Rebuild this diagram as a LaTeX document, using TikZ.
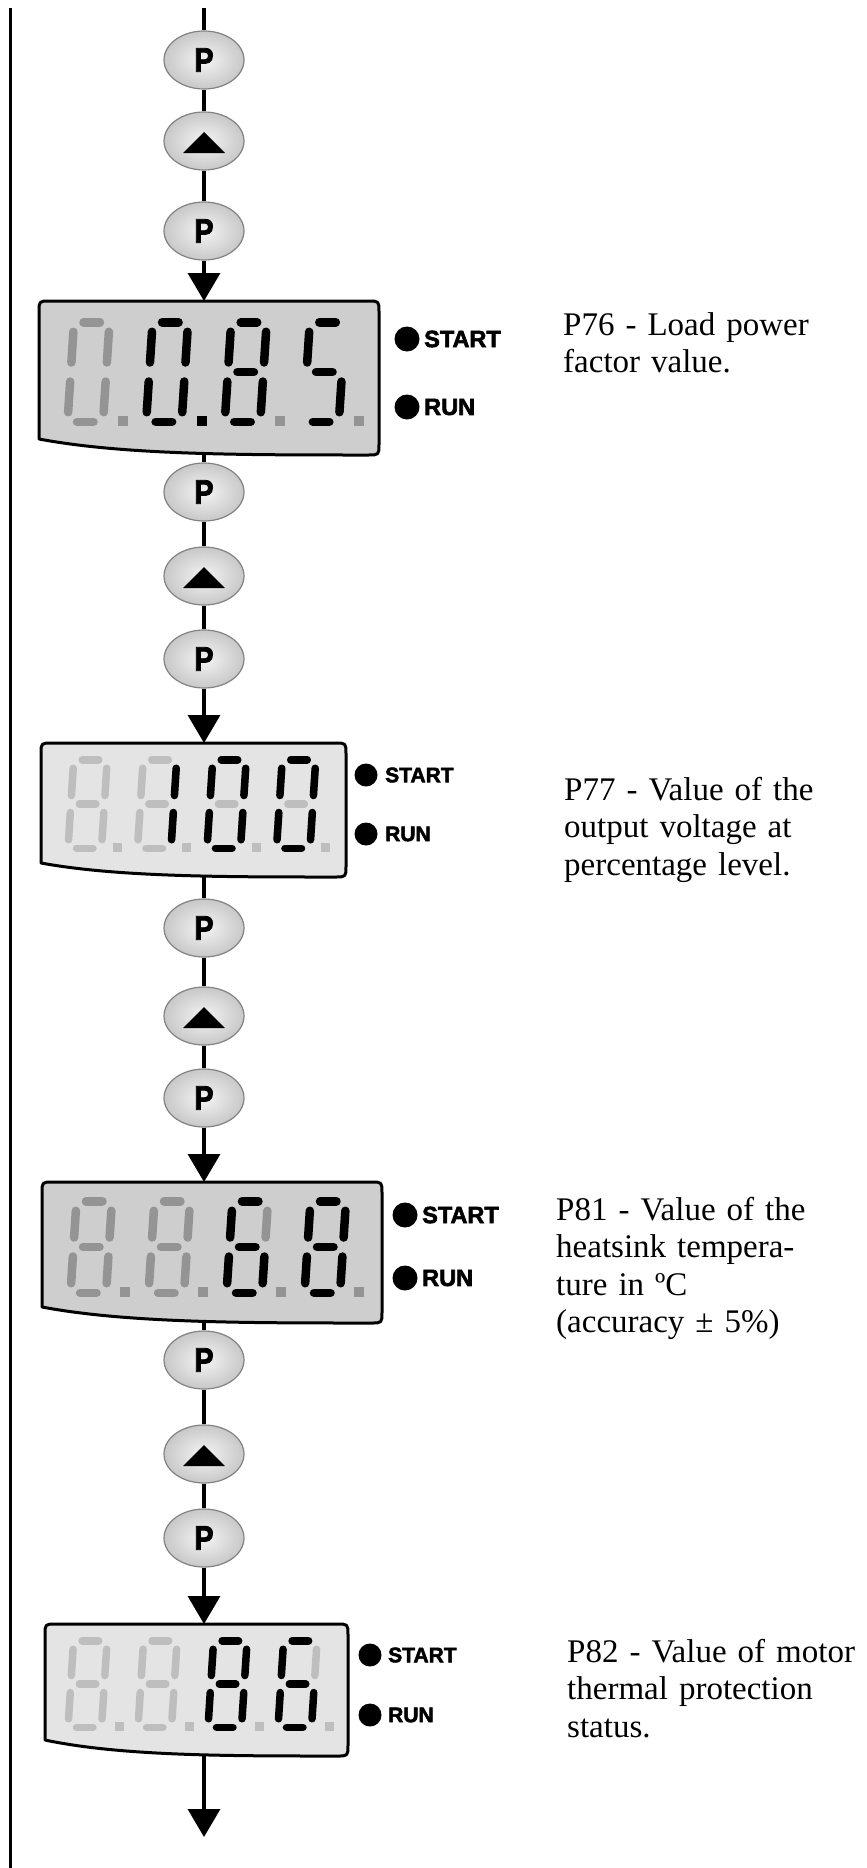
\documentclass[tikz,border=0pt]{standalone}
\usepackage{fontspec}
\setmainfont{Liberation Serif}
\newfontfamily\heavyfont{Liberation Sans}[UprightFont={* Bold},FakeBold=2.5]
\usetikzlibrary{shapes.geometric,arrows.meta}
\definecolor{dimA}{RGB}{148,148,148}
\definecolor{dimB}{RGB}{190,190,190}
\definecolor{lcdA}{RGB}{206,206,206}
\definecolor{lcdB}{RGB}{228,228,228}
\definecolor{btnin}{RGB}{244,244,244}
\definecolor{btnout}{RGB}{200,200,200}
\definecolor{btnrim}{RGB}{130,130,130}

\def\sega{(\xl+\gp,\yt) -- (\xr-\gp,\yt)}
\def\segb{(\xr,\yt-\gp) -- (\xr,\ym+\gp)}
\def\segc{(\xr,\ym-\gp) -- (\xr,\yb+\gp)}
\def\segd{(\xl+\gp,\yb) -- (\xr-\gp,\yb)}
\def\sege{(\xl,\ym-\gp) -- (\xl,\yb+\gp)}
\def\segf{(\xl,\yt-\gp) -- (\xl,\ym+\gp)}
\def\segg{(\xl+\gp,\ym) -- (\xr-\gp,\ym)}

% #1 x (bottom-left), #2 y bottom, #3 width, #4 height, #5 thickness, #6 colour, #7 segments
\newcommand\lcdigit[7]{%
\begin{scope}[shift={(#1,#2)},x=1pt,y={(0.065pt,1pt)}]
\pgfmathsetmacro\hw{#5/2}%
\pgfmathsetmacro\gp{#5+1}%
\pgfmathsetmacro\xl{\hw}%
\pgfmathsetmacro\xr{#3-\hw}%
\pgfmathsetmacro\yb{\hw}%
\pgfmathsetmacro\yt{#4-\hw}%
\pgfmathsetmacro\ym{#4/2}%
\foreach \s in {#7}{\draw[line width=#5pt,line cap=round,draw=#6] \csname seg\s\endcsname;}%
\end{scope}}

% decimal point: #1 centre x, #2 bottom y, #3 size, #4 colour
\newcommand\lcdot[4]{\fill[#4] ({#1-#3/2},#2) rectangle ++(#3,-#3);}

% frame: #1 L, #2 R, #3 top, #4 bottom-left, #5 bottom-right, #6 fill
\newcommand\lcdframe[6]{%
\pgfmathsetmacro\fw{#2-#1}%
\filldraw[fill=#6,draw=black,line width=3pt,line join=round]
 (#1,#4) -- (#1,#3+11) .. controls (#1,#3) .. (#1+11,#3) -- (#2-11,#3)
 .. controls (#2,#3) .. (#2,#3+11) -- (#2,#5-11) .. controls (#2,#5) .. (#2-11,#5)
 .. controls ({#1+0.6*\fw},#5) and ({#1+0.25*\fw},#5) .. (#1,#4) -- cycle;}

\begin{document}
\begin{tikzpicture}[x=1pt,y=-1pt,
  btn/.style={ellipse,minimum width=80pt,minimum height=58pt,inner sep=0pt,
    draw=btnrim,line width=1.2pt,inner color=btnin,outer color=btnout,
    font=\heavyfont\fontsize{34}{34}\selectfont},
  conn/.style={line width=3.5pt},
  arr/.style={-{Triangle[width=32pt,length=28pt]}},
  lblA/.style={anchor=west,inner sep=0pt,font=\heavyfont\fontsize{23.5}{23.5}\selectfont},
  lblB/.style={anchor=west,inner sep=0pt,font=\heavyfont\fontsize{21}{21}\selectfont},
  desc/.style={anchor=base west,inner sep=0pt,text width=310pt,align=left,
    font=\fontsize{33}{37.5}\selectfont}]
\useasboundingbox (0,0) rectangle (867,1868);
\newcommand\Pkey{\scalebox{0.85}[1]{P}}
\newcommand\upmark[1]{\fill[shift={(#1)}] (-21,12) -- (21,12) -- (0,-9) -- cycle;}

% left rule
\draw[line width=3pt] (10,8) -- (10,1868);

% ---------------- block 1
\coordinate (top) at (204,8);
\node[btn] (P1a) at (204,60) {\Pkey};
\node[btn] (U1) at (204,141) {};
\upmark{U1}
\node[btn] (P1b) at (204,231) {\Pkey};
\coordinate (D1in) at (204,301);
\coordinate (D1out) at (204,455);
\draw[conn] (top) -- (P1a);
\draw[conn] (P1a) -- (U1);
\draw[conn] (U1) -- (P1b);
\draw[conn,arr] (P1b) -- (D1in);

\lcdframe{39}{379}{301}{439}{455}{lcdA}
\lcdigit{63}{426}{44}{108}{8.5}{dimA}{a,b,c,d,e,f}
\lcdigit{141.6}{426}{44}{108}{8.5}{black}{a,b,c,d,e,f}
\lcdigit{220.2}{426}{44}{108}{8.5}{black}{a,b,c,d,e,f,g}
\lcdigit{298.8}{426}{44}{108}{8.5}{black}{a,f,g,c,d}
\lcdot{123}{426}{10}{dimA}
\lcdot{201.6}{426}{10}{black}
\lcdot{280.2}{426}{10}{dimA}
\lcdot{358.8}{426}{10}{dimA}
\fill (407,339) circle[radius=12.5];
\fill (407,407) circle[radius=12.5];
\node[lblA] (S1) at (424,339) {START};
\node[lblA] (R1) at (424,407) {RUN};
\node[desc] (T1) at (563,335) {P76 - Load power\\factor value.};

% ---------------- block 2
\node[btn] (P2a) at (204,492) {\Pkey};
\node[btn] (U2) at (204,576) {};
\upmark{U2}
\node[btn] (P2b) at (204,659) {\Pkey};
\coordinate (D2in) at (204,743);
\coordinate (D2out) at (204,877);
\draw[conn] (D1out) -- (P2a);
\draw[conn] (P2a) -- (U2);
\draw[conn] (U2) -- (P2b);
\draw[conn,arr] (P2b) -- (D2in);

\lcdframe{41}{346}{743}{863}{877}{lcdB}
\foreach \k in {0,1,2,3}{\lcdigit{64+69.5*\k}{852}{41}{96}{7.5}{dimB}{a,b,c,d,e,f,g}}
\lcdigit{133.5}{852}{41}{96}{7.5}{black}{b,c}
\lcdigit{203}{852}{41}{96}{7.5}{black}{a,b,c,d,e,f}
\lcdigit{272.5}{852}{41}{96}{7.5}{black}{a,b,c,d,e,f}
\foreach \k in {0,1,2,3}{\lcdot{117+69.5*\k}{852}{9}{dimB}}
\fill (366,775) circle[radius=11.5];
\fill (366,834) circle[radius=11.5];
\node[lblB] (S2) at (385,775) {START};
\node[lblB] (R2) at (385,834) {RUN};
\node[desc] (T2) at (564,800) {P77 - Value of the\\output voltage at\\percentage level.};

% ---------------- block 3
\node[btn] (P3a) at (204,928) {\Pkey};
\node[btn] (U3) at (204,1016) {};
\upmark{U3}
\node[btn] (P3b) at (204,1098) {\Pkey};
\coordinate (D3in) at (204,1182);
\coordinate (D3out) at (204,1323);
\draw[conn] (D2out) -- (P3a);
\draw[conn] (P3a) -- (U3);
\draw[conn] (U3) -- (P3b);
\draw[conn,arr] (P3b) -- (D3in);

\lcdframe{42}{382}{1182}{1307}{1323}{lcdA}
\lcdigit{66}{1297}{44}{100}{8.5}{dimA}{a,b,c,d,e,f,g}
\lcdigit{144}{1297}{44}{100}{8.5}{dimA}{a,b,c,d,e,f,g}
\lcdigit{222}{1297}{44}{100}{8.5}{dimA}{b}
\lcdigit{222}{1297}{44}{100}{8.5}{black}{a,c,d,e,f,g}
\lcdigit{300}{1297}{44}{100}{8.5}{black}{a,b,c,d,e,f,g}
\foreach \k in {0,1,2,3}{\lcdot{125+78*\k}{1297}{10}{dimA}}
\fill (405,1215) circle[radius=12.5];
\fill (405,1278) circle[radius=12.5];
\node[lblA] (S3) at (422,1215) {START};
\node[lblA] (R3) at (422,1278) {RUN};
\node[desc] (T3) at (556,1220) {P81 - Value of the\\heatsink tempera-\\ture in ºC\\(accuracy ± 5\%)};

% ---------------- block 4
\node[btn] (P4a) at (204,1360) {\Pkey};
\node[btn] (U4) at (204,1454) {};
\upmark{U4}
\node[btn] (P4b) at (204,1538) {\Pkey};
\coordinate (D4in) at (204,1624);
\coordinate (D4out) at (204,1756);
\coordinate (bottom) at (204,1837);
\draw[conn] (D3out) -- (P4a);
\draw[conn] (P4a) -- (U4);
\draw[conn] (U4) -- (P4b);
\draw[conn,arr] (P4b) -- (D4in);
\draw[conn,arr] (D4out) -- (bottom);

\lcdframe{45}{348}{1624}{1740}{1756}{lcdB}
\lcdigit{64}{1731}{41}{94}{7.5}{dimB}{a,b,c,d,e,f,g}
\lcdigit{134}{1731}{41}{94}{7.5}{dimB}{a,b,c,d,e,f,g}
\lcdigit{204}{1731}{41}{94}{7.5}{black}{a,b,c,d,e,f,g}
\lcdigit{274}{1731}{41}{94}{7.5}{dimB}{b}
\lcdigit{274}{1731}{41}{94}{7.5}{black}{a,c,d,e,f,g}
\foreach \k in {0,1,2,3}{\lcdot{119+70*\k}{1731}{9}{dimB}}
\fill (370,1655) circle[radius=11.5];
\fill (370,1715) circle[radius=11.5];
\node[lblB] (S4) at (388,1655) {START};
\node[lblB] (R4) at (388,1715) {RUN};
\node[desc] (T4) at (567,1662) {P82 - Value of motor\\thermal protection\\status.};
\end{tikzpicture}
\end{document}
